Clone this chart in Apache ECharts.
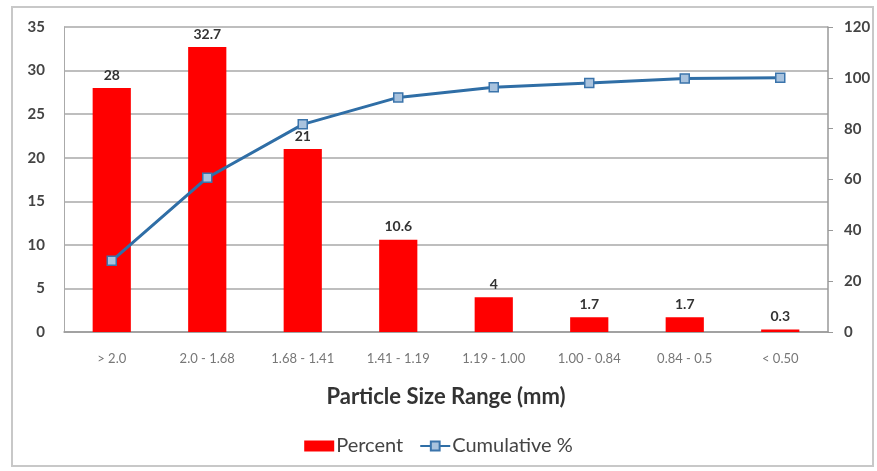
<!DOCTYPE html>
<html>
<head>
<meta charset="utf-8">
<script src="https://cdn.jsdelivr.net/npm/echarts@6/dist/echarts.min.js"></script>
<style>
  html, body { margin: 0; padding: 0; background: #fff; }
  #chart { width: 877px; height: 471px; }
</style>
</head>
<body>
<div id="chart"></div>
<script>
// Particle size distribution: percent retained per range and cumulative percent
const categories = ['> 2.0', '2.0 - 1.68', '1.68 - 1.41', '1.41 - 1.19', '1.19 - 1.00', '1.00 - 0.84', '0.84 - 0.5', '< 0.50'];
const percent = [28, 32.7, 21, 10.6, 4, 1.7, 1.7, 0.3];
const cumulative = [28, 60.7, 81.7, 92.3, 96.3, 98, 99.7, 100];

const fontFamily = 'Lato, "Open Sans", sans-serif';
const chart = echarts.init(document.getElementById('chart'), null, { renderer: 'canvas' });

chart.setOption({
  animation: false,
  backgroundColor: '#fff',
  textStyle: { fontFamily },
  graphic: [{
    type: 'rect',
    shape: { x: 12, y: 7, width: 861, height: 459 },
    style: { fill: 'none', stroke: '#c8c8c8', lineWidth: 2 },
    silent: true
  }],
  grid: { left: 64, right: 49, top: 27, bottom: 139 },
  legend: {
    top: 431,
    left: 'center',
    itemGap: 16,
    itemWidth: 30,
    itemHeight: 11,
    textStyle: { fontFamily, fontSize: 20, color: '#444', padding: [0, 0, 0, -3] },
    data: [
      { name: 'Percent', icon: 'rect' },
      { name: 'Cumulative %' }
    ]
  },
  xAxis: {
    type: 'category',
    data: categories,
    name: 'Particle Size Range (mm)',
    nameLocation: 'middle',
    nameGap: 54,
    nameTextStyle: { fontFamily, fontSize: 22, fontWeight: 'bold', color: '#333' },
    axisLine: { lineStyle: { color: '#999', width: 1.5 } },
    axisTick: { show: false },
    axisLabel: { fontSize: 13, color: '#777', margin: 20 }
  },
  yAxis: [
    {
      type: 'value',
      min: 0, max: 35, interval: 5,
      axisLine: { show: true, lineStyle: { color: '#aaa' } },
      axisTick: { show: false },
      axisLabel: { fontSize: 15, fontWeight: 'bold', color: '#444', margin: 19 },
      splitLine: { lineStyle: { color: '#a8a8a8', width: 1.5 } }
    },
    {
      type: 'value',
      min: 0, max: 120, interval: 20,
      position: 'right',
      axisLine: { show: true, lineStyle: { color: '#999', width: 1.5 } },
      axisTick: { show: true, length: 5, lineStyle: { color: '#999' } },
      axisLabel: { fontSize: 15, fontWeight: 'bold', color: '#444', margin: 16 },
      splitLine: { show: false }
    }
  ],
  series: [
    {
      name: 'Percent',
      type: 'bar',
      yAxisIndex: 0,
      data: percent,
      barWidth: '40%',
      itemStyle: { color: '#ff0000' },
      label: {
        show: true,
        position: 'top',
        distance: 6,
        fontSize: 14,
        fontWeight: 'bold',
        color: '#333'
      }
    },
    {
      name: 'Cumulative %',
      type: 'line',
      yAxisIndex: 1,
      data: cumulative,
      symbol: 'rect',
      symbolSize: 9,
      lineStyle: { color: '#2f6ea6', width: 3 },
      itemStyle: { color: '#a9c3de', borderColor: '#3b74ab', borderWidth: 1.5 },
      z: 5
    }
  ]
});
</script>
</body>
</html>
